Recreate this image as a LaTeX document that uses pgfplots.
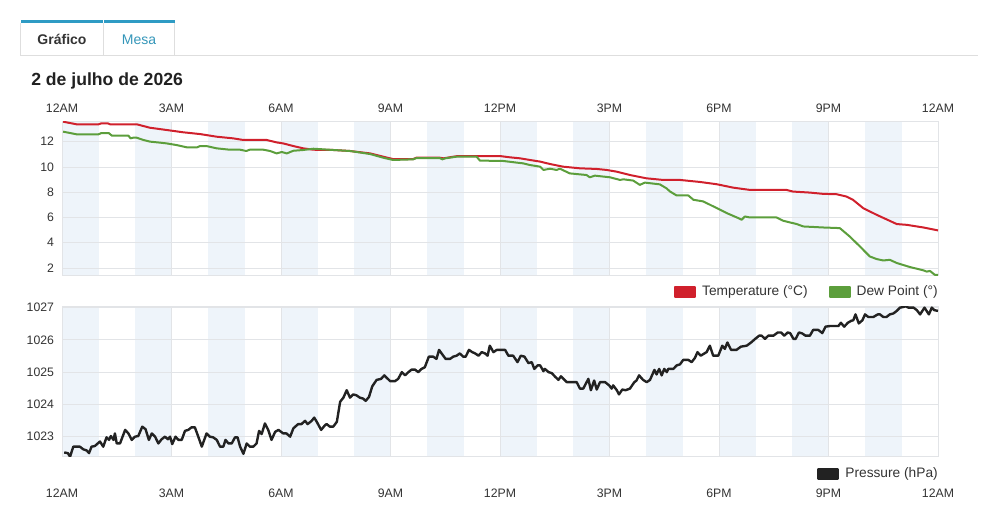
\documentclass[border=0pt]{standalone}
\usepackage{fontspec}
\setmainfont{Liberation Sans}
\usepackage{pgfplots}
\pgfplotsset{compat=1.18}
\definecolor{tempred}{RGB}{208,32,44}
\definecolor{dewgreen}{RGB}{92,158,60}
\definecolor{presblack}{RGB}{34,34,34}
\definecolor{bandc}{RGB}{238,244,250}
\definecolor{gridc}{RGB}{226,228,231}
\definecolor{tabblue}{RGB}{46,155,196}
\definecolor{mesatext}{RGB}{52,150,185}
\definecolor{tabgray}{RGB}{222,222,222}
\definecolor{labc}{RGB}{51,51,51}

\newcommand{\band}[4]{\addplot[fill=bandc, draw=none, forget plot, on layer=axis background] coordinates {(#1,#3)(#1,#4)(#2,#4)(#2,#3)};}
\newcommand{\bands}[2]{%
\band{0}{1}{#1}{#2}\band{2}{3}{#1}{#2}\band{4}{5}{#1}{#2}\band{6}{7}{#1}{#2}%
\band{8}{9}{#1}{#2}\band{10}{11}{#1}{#2}\band{12}{13}{#1}{#2}\band{14}{15}{#1}{#2}%
\band{16}{17}{#1}{#2}\band{18}{19}{#1}{#2}\band{20}{21}{#1}{#2}\band{22}{23}{#1}{#2}}

\pgfplotsset{
 common/.style={
   set layers,
   scale only axis, width=657pt,
   xmin=0, xmax=24, xtick={0,3,...,24},
   xticklabels={12AM,3AM,6AM,9AM,12PM,3PM,6PM,9PM,12AM},
   major tick length=0pt,
   xmajorgrids, ymajorgrids,
   grid style={gridc, line width=0.6pt},
   axis line style={gridc, line width=0.6pt},
   tick label style={font=\fontsize{9.2}{11}\selectfont, text=labc, inner sep=0pt},
   /pgf/number format/assume math mode=true,
   /pgf/number format/1000 sep={},
   yticklabel style={anchor=east, xshift=-5.8pt},
   legend style={draw=none, fill=none, inner sep=0pt, font=\fontsize{10.3}{12}\selectfont, text=labc,
     nodes={inner sep=0pt},
     /tikz/every odd column/.append style={column sep=4.5pt},
     /tikz/every even column/.append style={column sep=15.75pt}},
 },
}

\begin{document}
\begin{tikzpicture}
\begin{scope}[x=0.75pt,y=-0.75pt]
\path (0,0) rectangle (1000,532);
\fill[tabblue] (20.5,20) rectangle (102.5,23);
\fill[tabblue] (103.5,20) rectangle (174.5,23);
\draw[tabgray, line width=0.75pt] (20.5,23) -- (20.5,55) (103,23) -- (103,55) (174.5,23) -- (174.5,55);
\draw[tabgray, line width=0.75pt] (20,55) -- (978,55);
\node[font=\fontsize{10.5}{12}\selectfont\bfseries, text=labc] at (62,39.5) {Gráfico};
\node[font=\fontsize{10.5}{12}\selectfont, text=mesatext] at (139,39.5) {Mesa};
\node[anchor=base west, font=\fontsize{13.2}{15}\selectfont\bfseries, text=black!87, inner sep=0pt] at (31,85) {2 de julho de 2026};
\end{scope}

\begin{axis}[common,
  at={(46.5pt,-206.25pt)}, anchor=south west, height=115pt,
  ymin=1.45, ymax=13.58, ytick={2,4,...,12},
  xticklabel pos=upper,
  xticklabel style={anchor=center, yshift=10.3pt},
  legend columns=2,
  legend style={at={(1,0)}, anchor=east, yshift=-12.75pt},
  legend image code/.code={\fill[#1] (0pt,-3.4pt) rectangle (15pt,3.4pt);},
]
\bands{1.45}{13.58}
\addplot[color=tempred, line width=1.5pt, line join=round] coordinates {
(0.03,13.58)(0.4,13.37)(1.0,13.37)(1.08,13.45)(1.25,13.45)(1.32,13.37)(2.05,13.37)(2.41,13.1)
(2.87,12.92)(3.32,12.74)(3.78,12.6)(4.24,12.39)(4.69,12.26)(4.97,12.13)(5.61,12.13)(5.88,11.94)
(6.06,11.86)(6.34,11.65)(6.61,11.47)(6.89,11.36)(7.43,11.34)(7.89,11.26)(8.44,11.07)(8.8,10.81)
(9.07,10.62)(9.62,10.62)(9.71,10.73)(10.35,10.73)(10.45,10.68)(10.72,10.81)(10.85,10.86)(12.0,10.86)
(12.27,10.76)(12.55,10.68)(12.82,10.55)(13.1,10.42)(13.37,10.23)(13.73,10.02)(14.19,9.89)(14.65,9.84)
(14.92,9.76)(15.19,9.63)(15.56,9.36)(16.01,9.1)(16.47,8.97)(16.93,8.97)(17.48,8.81)(17.94,8.63)
(18.39,8.36)(18.85,8.18)(19.85,8.18)(20.03,8.05)(20.49,7.97)(20.85,7.87)(21.22,7.84)(21.49,7.66)
(21.67,7.4)(21.95,6.74)(22.32,6.21)(22.87,5.48)(23.14,5.42)(23.6,5.21)(24.0,4.98)
};
\addlegendentry{Temperature (°C)}
\addplot[color=dewgreen, line width=1.5pt, line join=round] coordinates {
(0.03,12.79)(0.4,12.58)(1.0,12.58)(1.08,12.68)(1.28,12.68)(1.37,12.47)(1.82,12.47)(1.88,12.26)
(1.95,12.31)(2.05,12.31)(2.23,12.13)(2.41,12.0)(2.69,11.92)(2.87,11.86)(3.14,11.73)(3.42,11.55)
(3.7,11.55)(3.78,11.65)(3.96,11.65)(4.24,11.47)(4.6,11.36)(4.88,11.36)(5.05,11.26)(5.14,11.36)
(5.52,11.36)(5.7,11.26)(5.88,11.07)(6.02,11.18)(6.16,11.07)(6.34,11.28)(6.61,11.34)(6.89,11.44)
(7.43,11.34)(7.89,11.26)(8.44,11.02)(8.8,10.73)(9.07,10.55)(9.62,10.6)(9.71,10.7)(10.35,10.7)
(10.42,10.6)(10.5,10.68)(10.81,10.81)(11.36,10.81)(11.45,10.5)(12.09,10.47)(12.46,10.34)(12.64,10.28)
(12.82,10.15)(13.1,10.02)(13.19,9.76)(13.37,9.86)(13.55,9.76)(13.64,9.86)(13.91,9.49)(14.37,9.36)
(14.46,9.18)(14.6,9.31)(15.01,9.18)(15.29,8.97)(15.38,9.02)(15.65,8.92)(15.83,8.58)(15.97,8.76)
(16.38,8.62)(16.56,8.31)(16.66,8.05)(16.84,7.74)(17.16,7.74)(17.3,7.4)(17.57,7.27)(17.94,6.74)
(18.21,6.35)(18.53,5.95)(18.62,5.82)(18.71,6.08)(18.85,6.0)(19.58,6.0)(19.76,5.74)(20.13,5.48)
(20.31,5.29)(20.85,5.21)(21.31,5.16)(21.58,4.5)(21.86,3.71)(22.13,2.92)(22.32,2.71)(22.5,2.6)
(22.68,2.65)(22.87,2.4)(23.23,2.08)(23.6,1.82)(23.69,1.72)(23.78,1.77)(23.91,1.47)(24.0,1.46)
};
\addlegendentry{Dew Point (°)}
\end{axis}

\begin{axis}[common,
  at={(46.5pt,-342.5pt)}, anchor=south west, height=113pt,
  ymin=1022.38, ymax=1027.05, ytick={1023,1024,...,1027},
  xticklabel style={anchor=center, yshift=-27.2pt},
  legend style={at={(1,0)}, anchor=east, yshift=-13pt},
  legend image code/.code={\fill[#1] (0pt,-3.4pt) rectangle (15pt,3.4pt);},
]
\bands{1022.38}{1027.05}
\addplot[color=presblack, line width=1.8pt, line join=round] coordinates {
(0.06,1022.51)(0.16,1022.49)(0.22,1022.38)(0.31,1022.69)(0.49,1022.69)(0.58,1022.61)(0.68,1022.57)(0.74,1022.49)
(0.81,1022.69)(0.90,1022.71)(1.04,1022.85)(1.13,1022.69)(1.22,1022.98)(1.29,1022.90)(1.34,1023.02)(1.41,1022.90)
(1.45,1023.10)(1.50,1022.79)(1.59,1022.79)(1.73,1023.21)(1.82,1023.10)(1.91,1022.90)(2.00,1023.00)(2.09,1023.02)
(2.20,1023.31)(2.29,1023.23)(2.38,1022.90)(2.46,1023.10)(2.55,1023.00)(2.64,1022.79)(2.73,1022.92)(2.82,1023.00)
(2.90,1022.92)(2.96,1023.00)(3.02,1022.77)(3.11,1023.00)(3.19,1022.90)(3.28,1022.90)(3.37,1023.18)(3.46,1023.21)
(3.55,1023.29)(3.64,1023.29)(3.74,1022.98)(3.83,1022.69)(3.96,1023.10)(4.05,1023.00)(4.14,1022.98)(4.24,1022.90)
(4.33,1022.69)(4.42,1022.69)(4.48,1022.90)(4.56,1022.79)(4.65,1022.79)(4.74,1022.98)(4.81,1022.98)(4.88,1022.69)
(4.97,1022.47)(5.06,1022.79)(5.15,1022.69)(5.24,1022.69)(5.33,1022.79)(5.40,1023.18)(5.47,1023.08)(5.56,1023.41)
(5.65,1023.21)(5.74,1022.90)(5.84,1023.15)(5.93,1023.21)(6.06,1023.10)(6.15,1023.10)(6.25,1023.00)(6.34,1023.26)
(6.47,1023.39)(6.56,1023.39)(6.66,1023.49)(6.73,1023.39)(6.84,1023.49)(6.91,1023.59)(6.98,1023.46)(7.10,1023.21)
(7.21,1023.36)(7.25,1023.39)(7.34,1023.31)(7.43,1023.31)(7.53,1023.46)(7.62,1024.08)(7.71,1024.21)(7.80,1024.44)
(7.89,1024.21)(7.98,1024.31)(8.07,1024.28)(8.16,1024.21)(8.25,1024.18)(8.32,1024.11)(8.41,1024.23)(8.50,1024.56)
(8.62,1024.76)(8.74,1024.79)(8.83,1024.90)(8.99,1024.72)(9.12,1024.72)(9.21,1024.79)(9.31,1025.00)(9.40,1024.90)
(9.49,1025.00)(9.58,1025.08)(9.67,1025.08)(9.76,1025.00)(9.85,1025.10)(9.94,1025.15)(10.05,1025.48)(10.17,1025.48)
(10.26,1025.41)(10.33,1025.69)(10.40,1025.58)(10.51,1025.41)(10.63,1025.41)(10.72,1025.48)(10.81,1025.51)(10.90,1025.58)
(10.99,1025.48)(11.06,1025.48)(11.15,1025.69)(11.24,1025.62)(11.32,1025.58)(11.41,1025.51)(11.50,1025.62)(11.59,1025.58)
(11.66,1025.51)(11.72,1025.82)(11.82,1025.62)(11.91,1025.69)(12.00,1025.69)(12.14,1025.69)(12.23,1025.51)(12.36,1025.51)
(12.48,1025.31)(12.57,1025.51)(12.67,1025.48)(12.78,1025.28)(12.87,1025.31)(12.94,1025.10)(13.03,1025.21)(13.10,1025.21)
(13.19,1025.03)(13.23,1025.10)(13.33,1025.00)(13.42,1024.97)(13.50,1024.87)(13.60,1024.76)(13.67,1024.87)(13.83,1024.69)
(13.96,1024.69)(14.10,1024.69)(14.19,1024.49)(14.28,1024.49)(14.42,1024.79)(14.49,1024.44)(14.58,1024.74)(14.65,1024.46)
(14.74,1024.69)(14.88,1024.69)(14.99,1024.59)(15.06,1024.49)(15.10,1024.59)(15.20,1024.44)(15.26,1024.31)(15.35,1024.46)
(15.44,1024.44)(15.56,1024.49)(15.68,1024.69)(15.74,1024.74)(15.81,1024.90)(15.92,1024.76)(16.02,1024.69)(16.11,1024.76)
(16.23,1025.07)(16.29,1024.93)(16.36,1025.10)(16.43,1024.90)(16.50,1025.10)(16.57,1025.00)(16.61,1025.10)(16.75,1025.10)
(16.84,1025.21)(16.93,1025.24)(17.02,1025.38)(17.16,1025.38)(17.25,1025.31)(17.34,1025.44)(17.41,1025.62)(17.50,1025.51)
(17.60,1025.58)(17.66,1025.62)(17.75,1025.82)(17.84,1025.51)(17.98,1025.51)(18.09,1025.82)(18.16,1025.72)(18.23,1025.92)
(18.33,1025.69)(18.48,1025.69)(18.60,1025.79)(18.76,1025.82)(18.88,1025.92)(18.99,1026.03)(19.10,1026.13)(19.17,1026.13)
(19.26,1026.03)(19.35,1026.13)(19.49,1026.13)(19.61,1026.23)(19.70,1026.23)(19.79,1026.13)(19.88,1026.23)(19.95,1026.21)
(20.04,1026.03)(20.10,1026.03)(20.19,1026.23)(20.28,1026.20)(20.37,1026.13)(20.49,1026.13)(20.58,1026.31)(20.72,1026.31)
(20.83,1026.21)(20.92,1026.41)(21.04,1026.43)(21.27,1026.43)(21.34,1026.53)(21.43,1026.41)(21.53,1026.53)(21.62,1026.59)
(21.68,1026.61)(21.74,1026.79)(21.83,1026.51)(21.93,1026.61)(22.00,1026.79)(22.09,1026.71)(22.23,1026.71)(22.35,1026.79)
(22.41,1026.79)(22.50,1026.71)(22.59,1026.71)(22.68,1026.79)(22.78,1026.82)(22.87,1026.90)(22.96,1027.00)(23.05,1027.02)
(23.11,1027.04)(23.19,1027.00)(23.33,1027.00)(23.42,1026.92)(23.51,1026.79)(23.63,1027.00)(23.75,1026.79)(23.83,1027.00)
(23.90,1026.92)(24.00,1026.90)
};
\addlegendentry{Pressure (hPa)}
\end{axis}
\end{tikzpicture}
\end{document}
